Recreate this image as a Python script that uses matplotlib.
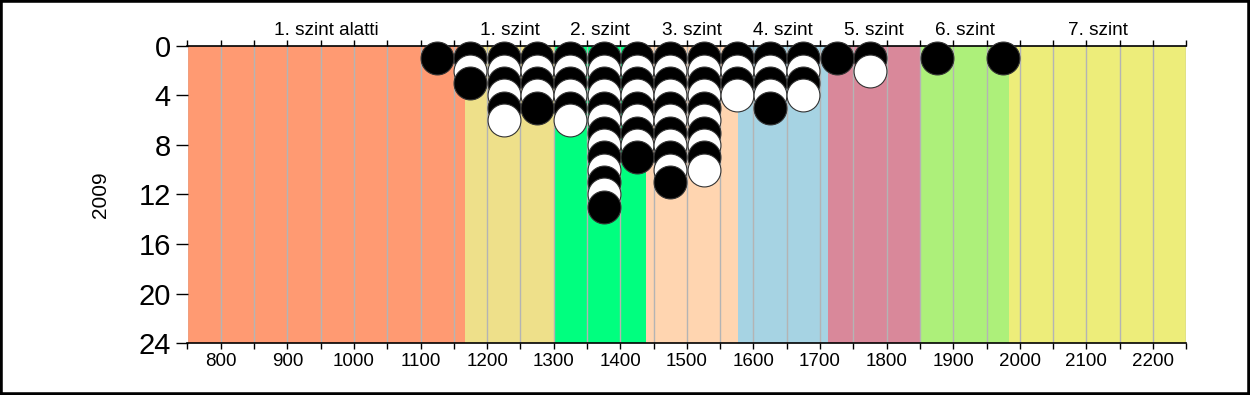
import matplotlib
matplotlib.use("Agg")
from matplotlib import pyplot as plt
from matplotlib.patches import Rectangle
import numpy as np

plt.rcParams['font.family'] = ['Liberation Sans', 'DejaVu Sans']

# score bins (centres) and how many students fell in each
bin_centers = [1125, 1175, 1225, 1275, 1325, 1375, 1425, 1475, 1525,
               1575, 1625, 1675, 1725, 1775, 1825, 1875, 1925, 1975]
counts = [1, 3, 6, 5, 6, 13, 9, 11, 10, 4, 5, 4, 1, 2, 0, 1, 0, 1]

# level bands
level_names = ['1. szint alatti', '1. szint', '2. szint', '3. szint', '4. szint',
               '5. szint', '6. szint', '7. szint']
level_edges = [750, 1167, 1301, 1438, 1577, 1712, 1850, 1984, 2250]
level_colors = ['#FF9A72', '#EEE08A', '#00FF7F', '#FFD5B0', '#A6D3E3',
                '#D9889A', '#ADF07A', '#EDED7A']

year_label = '2009'

fig = plt.figure(figsize=(12.5, 3.95), dpi=100)
ax = fig.add_axes([0.150, 0.1316, 0.799, 0.752])

for i in range(len(level_names)):
    ax.axvspan(level_edges[i], level_edges[i + 1], color=level_colors[i], lw=0, zorder=0)

# grid every 50 points
for gx in np.arange(750, 2251, 50):
    ax.axvline(gx, color='#B4B4B4', lw=1.0, zorder=1)

# stacked dots, odd = black, even = white
for x, n in zip(bin_centers, counts):
    for k in range(1, n + 1):
        fc = 'black' if k % 2 == 1 else 'white'
        ax.scatter([x], [k], s=560, c=fc, edgecolors='#333333', linewidths=0.8,
                   zorder=3 + k, clip_on=False)

ax.set_xlim(750, 2250)
ax.set_ylim(24, 0)

ax.set_yticks(np.arange(0, 25, 4))
ax.tick_params(axis='y', labelsize=21, length=9, width=1, pad=3)
ax.set_ylabel(year_label, fontsize=15)
ax.yaxis.set_label_coords(-0.078, 0.5)

ax.set_xticks(np.arange(800, 2201, 100))
ax.set_xticks(np.arange(750, 2251, 50), minor=True)
ax.tick_params(axis='x', which='both', labelsize=13.5, length=4, width=1, pad=3,
               top=True)

for s in ['left', 'right']:
    ax.spines[s].set_visible(False)
ax.spines['top'].set_linewidth(1.2)
ax.spines['bottom'].set_linewidth(1.2)

for i, name in enumerate(level_names):
    xc = (level_edges[i] + level_edges[i + 1]) / 2
    ax.text(xc, -0.55, name, ha='center', va='bottom', fontsize=13.7)

# frame around the whole picture
fig.patches.append(Rectangle((0, 0), 1, 1, transform=fig.transFigure,
                             fill=False, edgecolor='black', lw=4))

fig.savefig('out.png', dpi=100)
